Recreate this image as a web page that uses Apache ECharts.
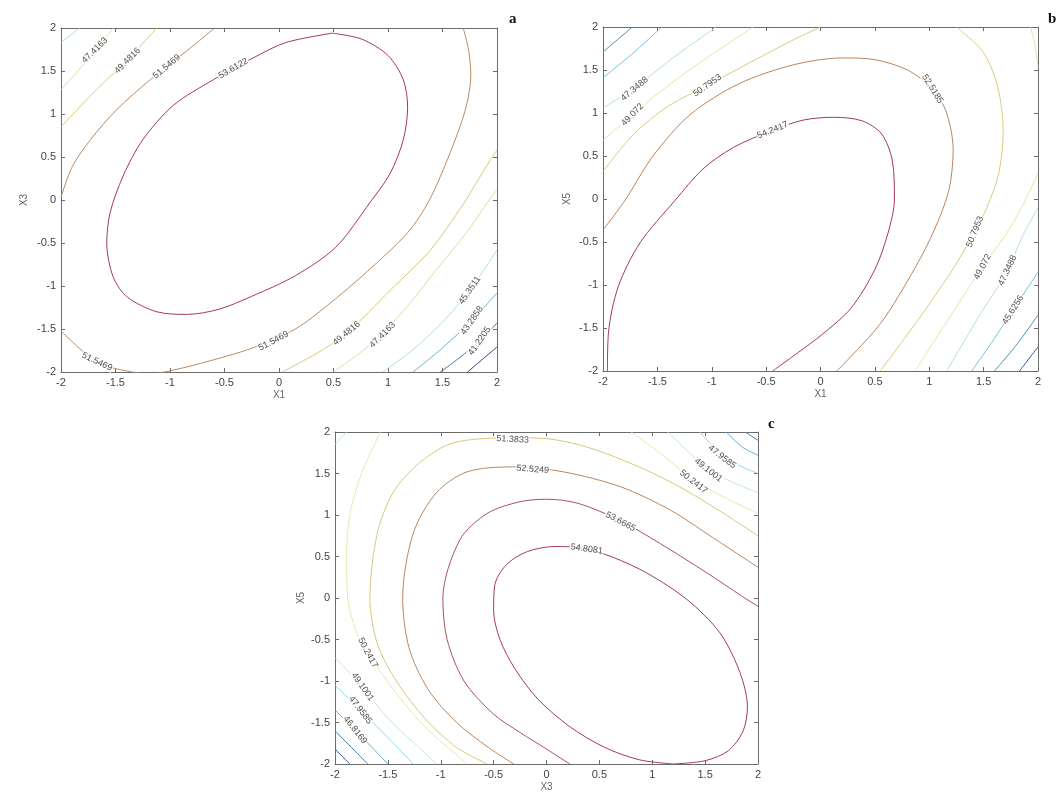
<!DOCTYPE html>
<html>
<head>
<meta charset="utf-8">
<title>contours</title>
<script src="https://cdn.jsdelivr.net/npm/echarts@6/dist/echarts.min.js"></script>
<style>
  html, body { margin: 0; padding: 0; background: #fff; }
  #main { width: 1056px; height: 798px; }
</style>
</head>
<body>
<div id="main"></div>
<script>
// ---- data ----
var ticks = [-2, -1.5, -1, -0.5, 0, 0.5, 1, 1.5, 2];

// panel a : X1 / X3
var aLevels = [53.6122, 51.5469, 49.4816, 47.4163, 45.3511, 43.2858, 41.2205, 39.1552];
var a0 = [[0.49,1.94],[0.76,1.87],[1.0,1.68],[1.14,1.40],[1.18,1.08],[1.14,0.70],[1.02,0.31],[0.84,-0.02],[0.52,-0.55],[0.15,-0.88],[-0.25,-1.12],[-0.55,-1.27],[-0.84,-1.33],[-1.12,-1.30],[-1.39,-1.13],[-1.52,-0.90],[-1.58,-0.50],[-1.55,-0.15],[-1.43,0.28],[-1.25,0.70],[-0.97,1.10],[-0.60,1.40],[-0.24,1.65],[0.06,1.83],[0.49,1.94]];
var a1u = [[-0.59,2],[-0.84,1.74],[-1.18,1.40],[-1.49,1.05],[-1.73,0.70],[-1.90,0.38],[-2,0.03]];
var a1l = [[-2,-1.52],[-1.8,-1.76],[-1.6,-1.92],[-1.35,-2.0],[-1.2,-2.02],[-1.05,-2.0],[-0.72,-1.90],[-0.24,-1.72],[0.15,-1.50],[0.45,-1.22],[0.81,-0.83],[1.18,-0.38],[1.38,0.0],[1.57,0.55],[1.71,1.05],[1.76,1.45],[1.74,1.74],[1.69,2]];
var a2u = [[-1.12,2],[-1.40,1.62],[-1.70,1.25],[-2,0.85]];
var a2l = [[2,0.58],[1.94,0.47],[1.82,0.22],[1.69,-0.05],[1.39,-0.58],[1.02,-1.05],[0.62,-1.55],[0.35,-1.78],[0.03,-2]];
var a3u = [[-1.52,2],[-1.72,1.68],[-2,1.28]];
var a3l = [[2,0.12],[1.9,-0.05],[1.72,-0.38],[1.45,-0.80],[1.2,-1.2],[0.95,-1.55],[0.75,-1.77],[0.5,-2]];
var a4u = [[-1.83,2],[-2,1.83]];
var a4l = [[2,-0.58],[1.75,-1.05],[1.5,-1.42],[1.22,-1.75],[0.95,-2]];
var a5 = [[2,-1.08],[1.77,-1.4],[1.5,-1.72],[1.23,-2]];
var a6 = [[2,-1.43],[1.84,-1.64],[1.65,-1.84],[1.48,-2]];
var a7 = [[2,-1.71],[1.86,-1.86],[1.73,-2]];
var aLines = [[0,a0],[1,a1u],[1,a1l],[2,a2u],[2,a2l],[3,a3u],[3,a3l],[4,a4u],[4,a4l],[5,a5],[6,a6],[7,a7]];
var aLabels = [
  ['47.4163',-1.69,1.74,45],['49.4816',-1.39,1.62,45],['51.5469',-1.03,1.55,40],['53.6122',-0.42,1.53,30],
  ['51.5469',-1.67,-1.88,-25],['51.5469',-0.05,-1.64,28],['49.4816',0.62,-1.55,40],['47.4163',0.95,-1.57,45],
  ['45.3511',1.75,-1.05,55],['43.2858',1.77,-1.4,55],['41.2205',1.84,-1.64,55]
];

// panel b : X1 / X5
var bLevels = [54.2417, 52.5185, 50.7953, 49.072, 47.3488, 45.6256, 43.9024, 42.1792];
var b0 = [[-1.96,-2.05],[-1.95,-1.56],[-1.86,-1.02],[-1.66,-0.51],[-1.34,-0.02],[-1.08,0.35],[-0.80,0.60],[-0.44,0.80],[-0.15,0.92],[0.12,0.95],[0.38,0.91],[0.56,0.76],[0.66,0.45],[0.68,0.0],[0.62,-0.4],[0.50,-0.82],[0.28,-1.27],[0.02,-1.57],[-0.2,-1.78],[-0.44,-2]];
var b1 = [[-2,-0.36],[-1.8,-0.02],[-1.54,0.5],[-1.2,0.98],[-0.75,1.34],[-0.25,1.56],[0.2,1.64],[0.5,1.62],[0.8,1.5],[1.03,1.28],[1.16,1.0],[1.22,0.57],[1.18,0.1],[1.05,-0.35],[0.87,-0.8],[0.55,-1.45],[0.15,-2]];
var b2u = [[-2,0.32],[-1.72,0.75],[-1.4,1.08],[-1.04,1.32],[-0.6,1.62],[-0.25,1.85],[0.0,2.0]];
var b2r = [[1.25,2],[1.5,1.7],[1.63,1.3],[1.68,0.8],[1.64,0.3],[1.53,-0.1],[1.42,-0.38],[1.2,-0.85],[0.9,-1.4],[0.55,-2]];
var b3u = [[-2,0.68],[-1.73,0.98],[-1.4,1.32],[-1.0,1.68],[-0.62,2]];
var b3c = [[1.93,2],[1.97,1.8],[2,1.53]];
var b3r = [[2,0.3],[1.85,-0.1],[1.7,-0.42],[1.49,-0.79],[1.2,-1.35],[0.87,-2]];
var b4u = [[-2,1.06],[-1.71,1.29],[-1.4,1.6],[-0.96,2]];
var b4r = [[2,-0.1],[1.85,-0.45],[1.72,-0.83],[1.45,-1.38],[1.16,-2]];
var b5u = [[-2,1.41],[-1.72,1.7],[-1.46,2]];
var b5r = [[2,-0.85],[1.77,-1.29],[1.6,-1.62],[1.39,-2]];
var b6u = [[-2,1.71],[-1.73,2]];
var b6r = [[2,-1.35],[1.8,-1.7],[1.6,-2]];
var b7r = [[2,-1.72],[1.83,-2]];
var bLines = [[0,b0],[1,b1],[2,b2u],[2,b2r],[3,b3u],[3,b3c],[3,b3r],[4,b4u],[4,b4r],[5,b5u],[5,b5r],[6,b6u],[6,b6r],[7,b7r]];
var bLabels = [
  ['47.3488',-1.71,1.28,40],['49.072',-1.73,0.98,45],['50.7953',-1.04,1.32,35],['54.2417',-0.44,0.80,22],
  ['52.5185',1.03,1.28,-58],['50.7953',1.42,-0.38,68],['49.072',1.49,-0.79,62],['47.3488',1.72,-0.83,65],['45.6256',1.77,-1.29,58]
];

// panel c : X3 / X5
var cLevels = [54.8081, 53.6665, 52.5249, 51.3833, 50.2417, 49.1001, 47.9585, 46.8169, 45.6753, 44.5337];
var c0 = [[1.20,-2.0],[1.50,-1.96],[1.72,-1.84],[1.86,-1.60],[1.90,-1.31],[1.83,-0.90],[1.64,-0.42],[1.33,-0.02],[0.95,0.30],[0.63,0.49],[0.35,0.60],[0.08,0.62],[-0.18,0.56],[-0.38,0.40],[-0.49,0.15],[-0.50,-0.15],[-0.44,-0.50],[-0.30,-0.85],[-0.08,-1.22],[0.22,-1.55],[0.55,-1.80],[0.88,-1.95],[1.20,-2.0]];
var c1 = [[2,-0.1],[1.85,0.02],[1.52,0.30],[1.07,0.66],[0.70,0.93],[0.3,1.14],[0.0,1.19],[-0.25,1.16],[-0.56,1.02],[-0.82,0.70],[-0.98,0],[-0.94,-0.5],[-0.78,-1.0],[-0.5,-1.4],[-0.25,-1.62],[0.0,-1.82],[0.22,-2.0]];
var c2 = [[2,0.37],[1.57,0.73],[1.17,1.06],[0.70,1.34],[0.16,1.52],[-0.32,1.58],[-0.75,1.52],[-1.04,1.27],[-1.26,0.78],[-1.36,0],[-1.3,-0.6],[-1.12,-1.1],[-0.85,-1.5],[-0.55,-1.8],[-0.31,-2]];
var c3 = [[2,0.75],[1.6,1.08],[1.2,1.38],[0.8,1.62],[0.38,1.82],[0.0,1.92],[-0.32,1.93],[-0.88,1.87],[-1.20,1.63],[-1.45,1.27],[-1.60,0.78],[-1.67,0],[-1.6,-0.55],[-1.42,-1.0],[-1.15,-1.45],[-0.85,-1.8],[-0.56,-2]];
var c4r = [[0.8,2],[1.1,1.72],[1.39,1.42],[1.7,1.2],[2,1.02]];
var c4l = [[-1.57,2],[-1.75,1.5],[-1.86,1.0],[-1.89,0.5],[-1.88,0],[-1.8,-0.4],[-1.69,-0.66],[-1.45,-1.1],[-1.15,-1.55],[-0.75,-2]];
var c5r = [[1.15,2],[1.35,1.75],[1.53,1.55],[1.75,1.4],[2,1.27]];
var c5c = [[-1.89,2],[-2,1.85]];
var c5l = [[-2,-0.72],[-1.74,-1.07],[-1.5,-1.45],[-1.25,-1.75],[-1.04,-2]];
var c6r = [[1.45,2],[1.66,1.72],[1.85,1.58],[2,1.5]];
var c6l = [[-2,-1.05],[-1.76,-1.35],[-1.5,-1.68],[-1.26,-2]];
var c7r = [[1.7,2],[1.85,1.82],[2,1.72]];
var c7l = [[-2,-1.35],[-1.81,-1.59],[-1.65,-1.8],[-1.5,-2]];
var c8r = [[1.88,2],[2,1.9]];
var c8l = [[-2,-1.6],[-1.69,-2]];
var c9l = [[-2,-1.82],[-1.86,-2]];
var cLines = [[0,c0],[1,c1],[2,c2],[3,c3],[4,c4r],[4,c4l],[5,c5r],[5,c5c],[5,c5l],[6,c6r],[6,c6l],[7,c7r],[7,c7l],[8,c8r],[8,c8l],[9,c9l]];
var cLabels = [
  ['51.3833',-0.32,1.91,-3],['52.5249',-0.13,1.55,-5],['53.6665',0.70,0.92,-28],['54.8081',0.38,0.59,-8],
  ['50.2417',1.39,1.40,-38],['49.1001',1.53,1.54,-38],['47.9585',1.66,1.70,-38],
  ['50.2417',-1.69,-0.66,-62],['49.1001',-1.74,-1.07,-55],['47.9585',-1.76,-1.35,-52],['46.8169',-1.81,-1.59,-52]
];

// ---- styles ----
// washed-out jet colours, highest level first
var aColors = ['#a23a55', '#bb8a62', '#d9c878', '#d4e2a0', '#a6dfe0', '#68b4d2', '#4677a6', '#2f3f78'];
var bColors = ['#a23a55', '#be8258', '#dccb7c', '#e2e6a4', '#b2e2d4', '#72c0da', '#4a8eb4', '#31568a'];
var cColors = ['#a23a55', '#a8545a', '#b9855f', '#d8c87a', '#e6e8ac', '#c2e8d4', '#92d6e8', '#62acd6', '#4280b2', '#2f5690'];

var panels = [
  { grid: { left: 61, top: 28, width: 436, height: 344 }, xName: 'X1', yName: 'X3', yGap: 32, lines: aLines, labels: aLabels, colors: aColors, tag: 'a', tagPos: [509, 12] },
  { grid: { left: 603, top: 27, width: 435, height: 344 }, xName: 'X1', yName: 'X5', yGap: 31, lines: bLines, labels: bLabels, colors: bColors, tag: 'b', tagPos: [1048, 12] },
  { grid: { left: 335, top: 432, width: 423, height: 332 }, xName: 'X3', yName: 'X5', yGap: 29, lines: cLines, labels: cLabels, colors: cColors, tag: 'c', tagPos: [768, 417] }
];

var axisColor = '#6b6b6b';
var font = 'Liberation Sans';

function mainAxis(gridIndex, pos, name, gap) {
  var isY = pos === 'left';
  return {
    type: 'value', gridIndex: gridIndex, position: pos,
    min: -2, max: 2, interval: 0.5,
    name: name, nameLocation: 'middle', nameGap: gap, nameRotate: isY ? 90 : 0,
    nameTextStyle: { color: '#666', fontSize: 10, fontFamily: font },
    axisLine: { show: true, onZero: false, lineStyle: { color: axisColor, width: 1 } },
    axisTick: { show: true, inside: true, length: 4, lineStyle: { color: axisColor } },
    axisLabel: { color: '#444', fontSize: 11, fontFamily: font, margin: 5 },
    splitLine: { show: false }
  };
}
function boxAxis(gridIndex, pos) {
  return {
    type: 'value', gridIndex: gridIndex, position: pos,
    min: -2, max: 2, interval: 0.5,
    axisLine: { show: true, onZero: false, lineStyle: { color: axisColor, width: 1 } },
    axisTick: { show: true, inside: true, length: 4, lineStyle: { color: axisColor } },
    axisLabel: { show: false },
    splitLine: { show: false }
  };
}

var grids = [], xAxes = [], yAxes = [], series = [], graphics = [];
panels.forEach(function (p, i) {
  grids.push(p.grid);
  xAxes.push(mainAxis(i, 'bottom', p.xName, 18));
  xAxes.push(boxAxis(i, 'top'));
  yAxes.push(mainAxis(i, 'left', p.yName, p.yGap));
  yAxes.push(boxAxis(i, 'right'));
  p.lines.forEach(function (ln) {
    series.push({
      type: 'line', xAxisIndex: i * 2, yAxisIndex: i * 2,
      data: ln[1], smooth: 0.3, showSymbol: false, symbol: 'none',
      clip: true, silent: true, animation: false,
      lineStyle: { color: p.colors[ln[0]], width: 1 }
    });
  });
  series.push({
    type: 'scatter', xAxisIndex: i * 2, yAxisIndex: i * 2,
    symbolSize: 1, itemStyle: { color: 'rgba(0,0,0,0)' }, z: 5, silent: true, animation: false,
    data: p.labels.map(function (l) {
      return {
        value: [l[1], l[2]],
        label: {
          show: true, position: 'inside', formatter: l[0], rotate: l[3],
          color: '#222', fontSize: 9, fontFamily: font,
          backgroundColor: '#fff', padding: [0, 1]
        }
      };
    })
  });
  graphics.push({
    type: 'text', left: p.tagPos[0], top: p.tagPos[1],
    style: { text: p.tag, fill: '#111', font: 'bold 15px "Liberation Serif"' }
  });
});

var chart = echarts.init(document.getElementById('main'), null, { renderer: 'canvas' });
chart.setOption({
  backgroundColor: '#fff',
  animation: false,
  grid: grids,
  xAxis: xAxes,
  yAxis: yAxes,
  series: series,
  graphic: graphics
});
</script>
</body>
</html>
